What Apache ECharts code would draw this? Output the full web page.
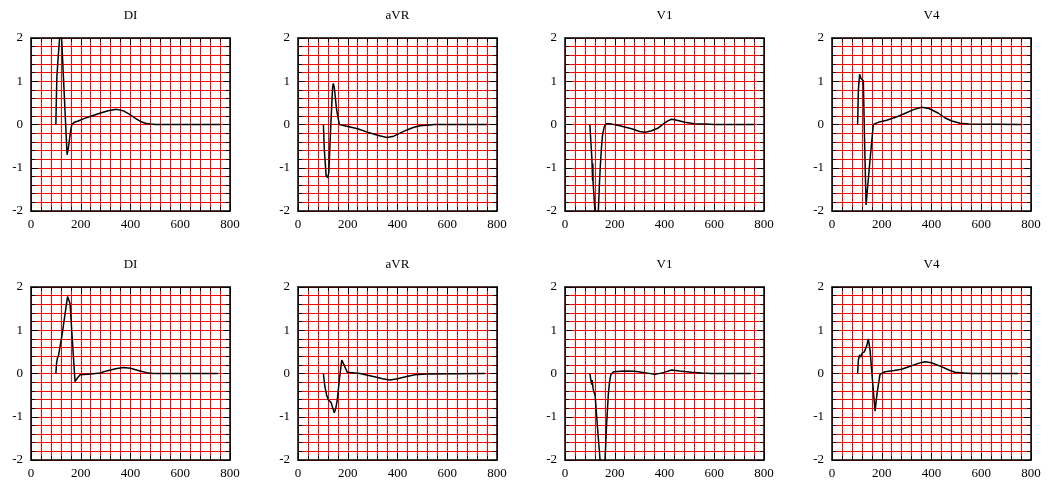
<!DOCTYPE html>
<html>
<head>
<meta charset="utf-8">
<script src="https://cdn.jsdelivr.net/npm/echarts@6/dist/echarts.min.js"></script>
<style>html,body{margin:0;padding:0;background:#fff}#c{width:1047px;height:484px}</style>
</head>
<body>
<div id="c"></div>
<script>
// Panel titles (row 1 then row 2)
const titles = ['DI', 'aVR', 'V1', 'V4', 'DI', 'aVR', 'V1', 'V4'];
const xTicks = [0, 200, 400, 600, 800];
const yTicks = [-2, -1, 0, 1, 2];
const xGridStep = 40;
const yGridStep = 0.2;

// Row 1
const di1X = [100, 102, 104, 108, 115, 119, 123, 134, 145, 150, 158, 164, 174, 190, 210, 240, 277, 310, 344, 370, 395, 420, 440, 460, 480, 500, 760];
const di1Y = [0, 0.6, 1.1, 1.45, 2.0, 2.4, 2.0, 0.65, -0.7, -0.55, -0.2, 0.0, 0.05, 0.08, 0.13, 0.19, 0.26, 0.32, 0.35, 0.32, 0.24, 0.14, 0.07, 0.03, 0.01, 0, 0];

const avr1X = [102, 106, 113, 120, 124, 132, 139, 142, 146, 155, 166, 196, 240, 276, 320, 357, 385, 410, 440, 463, 490, 517, 550, 760];
const avr1Y = [0, -0.6, -1.18, -1.23, -1.1, 0.0, 0.85, 0.95, 0.85, 0.35, 0.0, -0.04, -0.1, -0.17, -0.25, -0.30, -0.27, -0.2, -0.12, -0.07, -0.03, -0.02, 0, 0];

const v11X = [100, 104, 108, 110, 111, 112, 113, 116, 120, 126, 134, 139, 143, 147, 151, 158, 167, 180, 220, 268, 300, 322, 345, 375, 400, 415, 429, 450, 482, 520, 563, 600, 760];
const v11Y = [0, -0.4, -0.78, -0.8, -1.3, -0.9, -1.35, -1.6, -2.0, -2.6, -2.0, -1.3, -0.86, -0.5, -0.24, -0.05, 0.02, 0.02, -0.03, -0.1, -0.16, -0.18, -0.15, -0.08, 0.03, 0.09, 0.12, 0.1, 0.05, 0.02, 0.01, 0, 0];

const v41X = [103, 106, 111, 116, 126, 131, 137, 150, 166, 186, 220, 253, 290, 330, 361, 390, 428, 455, 482, 515, 549, 760];
const v41Y = [0, 0.8, 1.16, 1.07, 1.01, -0.4, -1.86, -1.0, 0.0, 0.05, 0.1, 0.16, 0.25, 0.35, 0.40, 0.37, 0.26, 0.15, 0.08, 0.03, 0.01, 0];

// Row 2
const di2X = [100, 103, 106, 111, 125, 140, 147, 152, 157, 167, 177, 182, 186, 197, 240, 277, 304, 340, 371, 400, 438, 465, 492, 753];
const di2Y = [0, 0.25, 0.35, 0.43, 0.9, 1.5, 1.78, 1.75, 1.62, 0.7, -0.19, -0.15, -0.11, -0.03, -0.01, 0.01, 0.06, 0.11, 0.14, 0.12, 0.06, 0.02, 0, 0];

const avr2X = [102, 105, 108, 115, 122, 133, 140, 146, 152, 158, 167, 176, 180, 185, 198, 249, 303, 340, 370, 400, 437, 470, 517, 752];
const avr2Y = [0, -0.15, -0.3, -0.5, -0.61, -0.67, -0.8, -0.91, -0.8, -0.61, -0.1, 0.31, 0.28, 0.2, 0.03, 0.0, -0.07, -0.12, -0.15, -0.12, -0.07, -0.03, -0.01, 0];

const v12X = [100, 104, 107, 109, 111, 113, 116, 121, 130, 141, 149, 161, 167, 174, 179, 184, 195, 201, 240, 281, 320, 362, 395, 429, 460, 509, 550, 589, 748];
const v12Y = [0, -0.15, -0.26, -0.15, -0.19, -0.35, -0.42, -0.5, -1.2, -2.0, -2.6, -2.0, -1.2, -0.5, -0.2, -0.03, 0.04, 0.06, 0.06, 0.05, 0.02, -0.02, 0.02, 0.08, 0.06, 0.03, 0.01, 0, 0];

const v42X = [103, 106, 111, 116, 121, 130, 135, 140, 146, 153, 162, 173, 182, 193, 213, 250, 280, 320, 350, 373, 400, 440, 470, 494, 530, 561, 748];
const v42Y = [0, 0.31, 0.43, 0.38, 0.47, 0.5, 0.46, 0.65, 0.8, 0.54, -0.1, -0.87, -0.42, -0.02, 0.04, 0.07, 0.1, 0.18, 0.24, 0.27, 0.25, 0.16, 0.08, 0.03, 0.01, 0, 0];

const panelX = [di1X, avr1X, v11X, v41X, di2X, avr2X, v12X, v42X];
const panelY = [di1Y, avr1Y, v11Y, v41Y, di2Y, avr2Y, v12Y, v42Y];

// Layout
const colLeft = [31, 298, 565, 832];
const rowTop = [38, 287];
const W = 199, H = 173;
const FONT = 'Liberation Serif';

const grids = [], xAxes = [], yAxes = [], series = [], titleArr = [];
const xMin = xTicks[0], xMax = xTicks[xTicks.length - 1];
const yMin = yTicks[0], yMax = yTicks[yTicks.length - 1];

for (let i = 0; i < 8; i++) {
  const r = Math.floor(i / 4), c = i % 4;
  grids.push({ left: colLeft[c], top: rowTop[r], width: W, height: H, containLabel: false });
  titleArr.push({
    text: titles[i], left: colLeft[c] + W / 2, top: rowTop[r] - 29, textAlign: 'center', padding: 0,
    zlevel: 1,
    textStyle: { fontFamily: FONT, fontWeight: 'normal', fontSize: 13, color: '#000' }
  });
  const axisLine = { show: true, onZero: false, lineStyle: { color: '#000', width: 1.5 } };
  const tick = { show: true, inside: true, length: 7, lineStyle: { color: '#000', width: 1 } };
  const minorTick = { show: true, splitNumber: 5, length: 4, lineStyle: { color: '#000', width: 1 } };
  const label = { color: '#000', fontFamily: FONT, fontSize: 13 };
  const hidden = { axisLine: { show: false }, axisTick: { show: false }, axisLabel: { show: false } };
  const red = { show: true, lineStyle: { color: '#ff0000', width: 1 } };

  // x axes: [red grid lines, bottom labelled, top mirror]
  xAxes.push(Object.assign({
    type: 'value', gridIndex: i, position: 'bottom', min: xMin, max: xMax, interval: xGridStep,
    splitLine: red, zlevel: 0, z: 0
  }, hidden));
  xAxes.push({
    type: 'value', gridIndex: i, position: 'bottom', min: xMin, max: xMax,
    interval: xTicks[1] - xTicks[0], axisLine, axisTick: tick, minorTick,
    splitLine: { show: false }, axisLabel: Object.assign({ margin: 7 }, label), zlevel: 1, z: 3
  });
  xAxes.push({
    type: 'value', gridIndex: i, position: 'top', min: xMin, max: xMax,
    interval: xTicks[1] - xTicks[0], axisLine, axisTick: tick, minorTick,
    splitLine: { show: false }, axisLabel: { show: false }, zlevel: 1, z: 3
  });
  // y axes: [red grid lines, left labelled, right mirror]
  yAxes.push(Object.assign({
    type: 'value', gridIndex: i, position: 'left', min: yMin, max: yMax, interval: yGridStep,
    splitLine: red, zlevel: 0, z: 0
  }, hidden));
  yAxes.push({
    type: 'value', gridIndex: i, position: 'left', min: yMin, max: yMax,
    interval: yTicks[1] - yTicks[0], axisLine, axisTick: tick, minorTick,
    splitLine: { show: false }, axisLabel: Object.assign({ margin: 8 }, label), zlevel: 1, z: 3
  });
  yAxes.push({
    type: 'value', gridIndex: i, position: 'right', min: yMin, max: yMax,
    interval: yTicks[1] - yTicks[0], axisLine, axisTick: tick, minorTick,
    splitLine: { show: false }, axisLabel: { show: false }, zlevel: 1, z: 3
  });

  const xs = panelX[i], ys = panelY[i];
  series.push({
    type: 'line', xAxisIndex: 3 * i + 1, yAxisIndex: 3 * i + 1, showSymbol: false, symbol: 'none',
    clip: true, smooth: false, animation: false, zlevel: 1, z: 2,
    lineStyle: { color: '#000', width: 1.5 },
    data: xs.map((x, k) => [x, ys[k]])
  });
}

const chart = echarts.init(document.getElementById('c'), null, { renderer: 'canvas' });
chart.setOption({
  animation: false,
  backgroundColor: '#fff',
  title: titleArr,
  grid: grids,
  xAxis: xAxes,
  yAxis: yAxes,
  series
});
</script>
</body>
</html>
